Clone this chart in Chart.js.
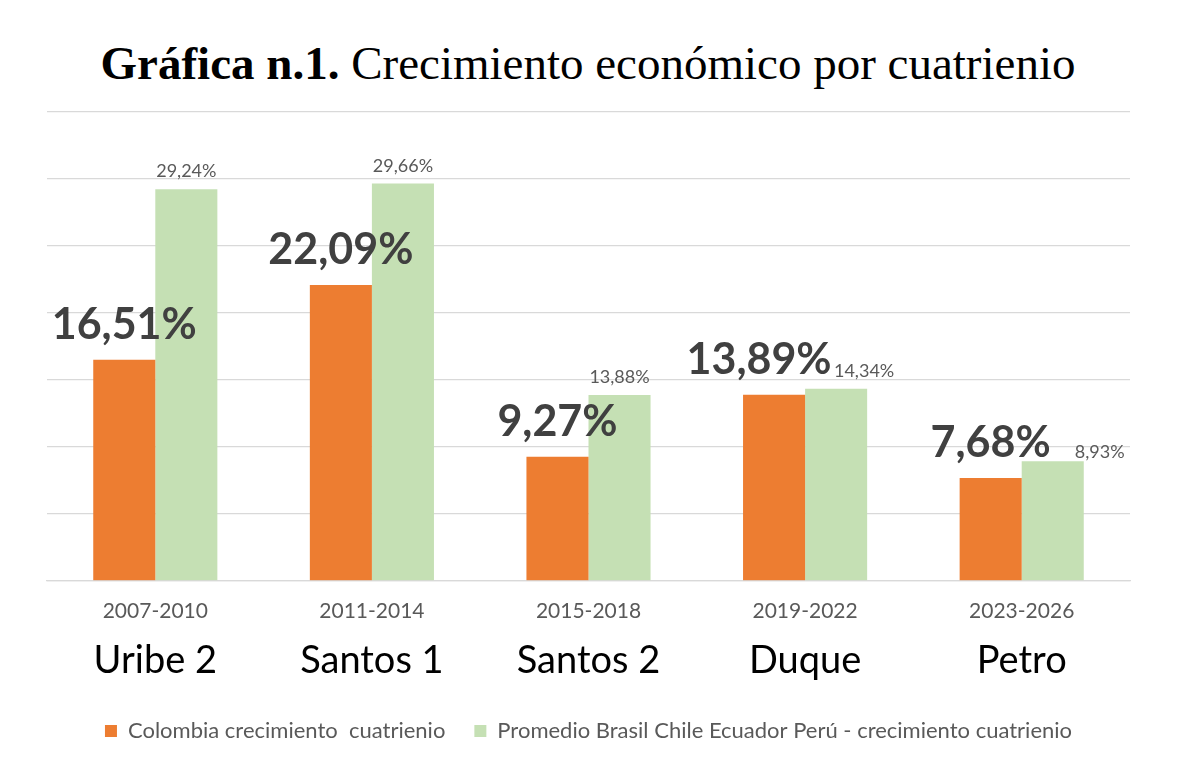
<!DOCTYPE html>
<html>
<head>
<meta charset="utf-8">
<script src="https://cdn.jsdelivr.net/npm/chart.js@4.4.1/dist/chart.umd.min.js"></script>
<style>
  html, body { margin:0; padding:0; background:#fff; }
  #wrap { position:relative; width:1200px; height:769px; }
  #title { position:absolute; left:0; top:33px; width:1176px; text-align:center;
    font-family:"Liberation Serif","DejaVu Serif",serif; font-size:47px; color:#000; line-height:60px; white-space:nowrap; }
  #title b { font-weight:bold; }
  canvas { position:absolute; left:0; top:0; }
</style>
</head>
<body>
<div id="wrap">
  <div id="title"><b>Gráfica n.1.</b> Crecimiento económico por cuatrienio</div>
  <canvas id="c" width="1200" height="769"></canvas>
</div>
<script>
// ---- data ----
const periods = ["2007-2010", "2011-2014", "2015-2018", "2019-2022", "2023-2026"];
const presidents = ["Uribe 2", "Santos 1", "Santos 2", "Duque", "Petro"];
const colombia = [16.51, 22.09, 9.27, 13.89, 7.68];
const promedio = [29.24, 29.66, 13.88, 14.34, 8.93];
const seriesNames = ["Colombia crecimiento  cuatrienio", "Promedio Brasil Chile Ecuador Perú - crecimiento cuatrienio"];
const yTicks = [0, 5, 10, 15, 20, 25, 30, 35];

const fmt = v => v.toFixed(2).replace('.', ',') + '%';

const labelPlugin = {
  id: 'barLabels',
  afterDatasetsDraw(chart, args, opts) {
    const ctx = chart.ctx;
    chart.data.datasets.forEach((ds, di) => {
      const meta = chart.getDatasetMeta(di);
      const st = opts.styles[di];
      meta.data.forEach((bar, i) => {
        const off = (st.offsets && st.offsets[i]) || [0, 0];
        ctx.save();
        ctx.font = st.font;
        ctx.fillStyle = st.color;
        ctx.textAlign = 'center';
        ctx.textBaseline = 'alphabetic';
        ctx.fillText(fmt(ds.data[i]), bar.x + off[0], bar.y - st.gap + off[1]);
        ctx.restore();
      });
    });
  }
};

new Chart(document.getElementById('c'), {
  type: 'bar',
  data: {
    labels: periods,
    datasets: [
      { label: seriesNames[0], data: colombia, backgroundColor: '#ED7D31', borderWidth: 0,
        categoryPercentage: 0.573, barPercentage: 1.0 },
      { label: seriesNames[1], data: promedio, backgroundColor: '#C5E0B4', borderWidth: 0,
        categoryPercentage: 0.573, barPercentage: 1.0 }
    ]
  },
  options: {
    responsive: false,
    animation: false,
    layout: { padding: { left: 47, right: 70, top: 112, bottom: 17 } },
    plugins: {
      title: { display: false },
      tooltip: { enabled: false },
      legend: {
        position: 'bottom',
        labels: {
          font: { family: 'Lato', size: 22 },
          color: '#595959',
          boxWidth: 12, boxHeight: 12,
          padding: 29
        }
      },
      barLabels: {
        styles: [
          { font: 'bold 43px Lato', color: '#404040', gap: 21,
            offsets: [[0,0],[0,0],[0,0],[-15,0],[0,0]] },
          { font: '18px Lato', color: '#595959', gap: 12,
            offsets: [[0,0],[0,0],[0,0],[28,0],[47,9]] }
        ]
      }
    },
    scales: {
      y: {
        min: 0, max: 35,
        afterBuildTicks: s => { s.ticks = yTicks.map(v => ({ value: v })); },
        ticks: { display: false },
        border: { display: false },
        grid: { color: '#d9d9d9', lineWidth: 1.3, drawTicks: false }
      },
      x: {
        position: 'bottom',
        grid: { display: false, drawTicks: false },
        border: { display: true, color: '#d9d9d9', width: 1.3 },
        ticks: { font: { family: 'Lato', size: 21 }, color: '#595959', padding: 18 }
      },
      x2: {
        type: 'category',
        position: 'bottom',
        labels: presidents,
        grid: { display: false, drawTicks: false },
        border: { display: false },
        afterFit: s => { s.height += 11; },
        ticks: { font: { family: 'Lato', size: 38, lineHeight: 1.0 }, color: '#000', padding: 0 }
      }
    }
  },
  plugins: [labelPlugin]
});
</script>
</body>
</html>
